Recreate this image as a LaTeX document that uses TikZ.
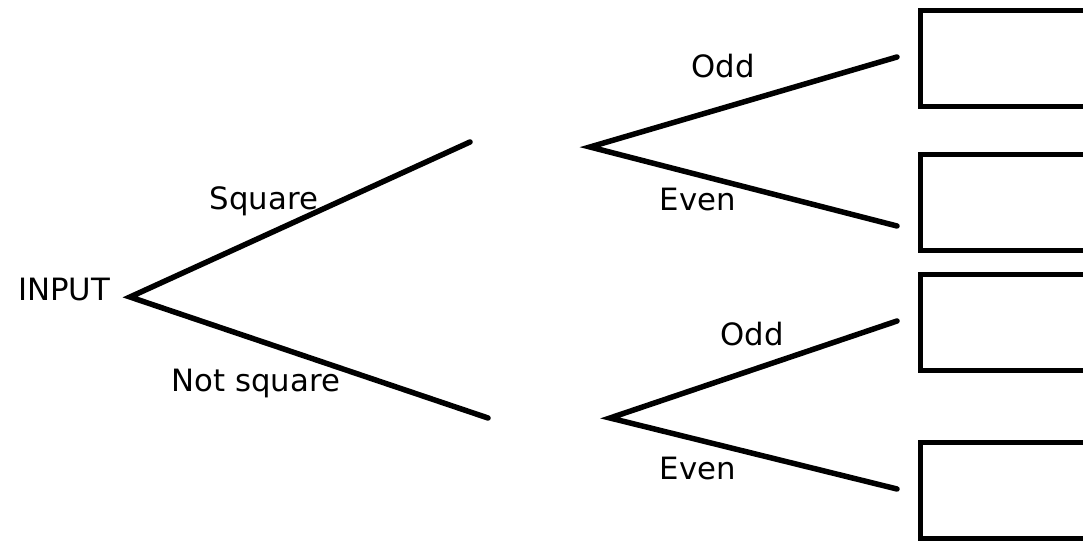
\documentclass[tikz,border=0pt]{standalone}
\usepackage{fontspec}
\setmainfont{DejaVu Sans}
\usepackage{tikz}
\usetikzlibrary{positioning}

\begin{document}
\begin{tikzpicture}[
  branch/.style={line width=0.11cm, line cap=round},
  outbox/.style={draw, line width=0.1cm, anchor=west, minimum width=3.8cm, minimum height=1.92cm},
  lbl/.style={font=\fontsize{17.5}{20}\selectfont, inner sep=0pt}]
\path[use as bounding box, clip] (0,0) rectangle (21.66,10.86);
% start and the two first branches
\node[lbl] (input) at (1.28,5.06) {INPUT};
\coordinate (root) at (2.6,4.92);
\coordinate (sqend) at (9.4,8.02);
\coordinate (nsqend) at (9.76,2.5);
\coordinate (forkA) at (11.8,7.92);
\coordinate (forkB) at (12.2,2.5);
% result boxes
\node[outbox] (boxA) at (18.36,9.69) {};
\node[outbox] (boxB) at (18.36,6.8) {};
\node[outbox] (boxC) at (18.36,4.4) {};
\node[outbox] (boxD) at (18.36,1.04) {};
\coordinate (oddA) at (17.94,9.72);
\coordinate (evenA) at (17.94,6.34);
\coordinate (oddB) at (17.94,4.44);
\coordinate (evenB) at (17.94,1.08);
\draw[branch] (sqend) -- (root) -- (nsqend);
\draw[branch] (oddA) -- (forkA) -- (evenA);
\draw[branch] (oddB) -- (forkB) -- (evenB);
% labels
\node[lbl] (square) at (5.28,6.84) {Square};
\node[lbl] (notsquare) at (5.12,3.2) {Not square};
\node[lbl] (oddlblA) at (14.46,9.54) {Odd};
\node[lbl] (evenlblA) at (13.96,6.86) {Even};
\node[lbl] (oddlblB) at (15.04,4.18) {Odd};
\node[lbl] (evenlblB) at (13.96,1.48) {Even};
\end{tikzpicture}
\end{document}
